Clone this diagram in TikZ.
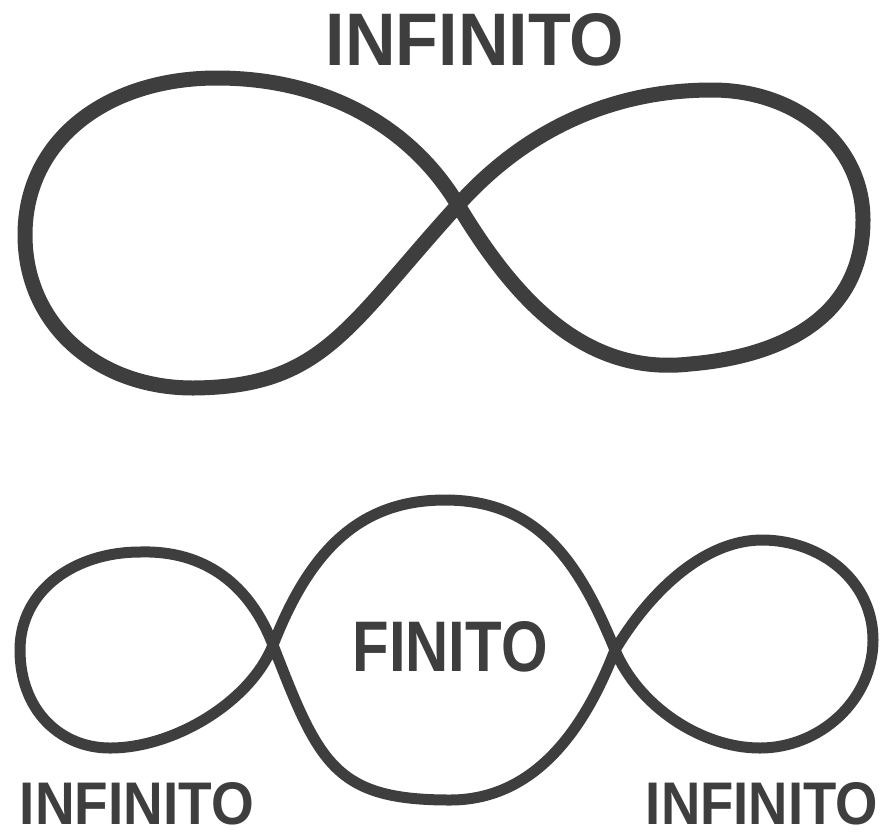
\documentclass[tikz,border=0pt]{standalone}
\usepackage{fontspec}
\usepackage{graphicx}
\setmainfont{Liberation Sans}
\definecolor{ink}{RGB}{62,62,62}
\tikzset{
  loopline/.style={draw=ink, line width=#1, line join=round, line cap=round},
  hand/.style={inner sep=0pt, outer sep=0pt, text=ink, font=\bfseries}
}
\begin{document}
\begin{tikzpicture}[x=1pt,y=-1pt]
\useasboundingbox (0,0) rectangle (890,836);
\fill[white] (0,0) rectangle (890,836);

% top figure eight
\coordinate (C) at (458,205);
\draw[loopline=15pt]
  (C) .. controls (518,138) and (602,90) .. (712,90)
      .. controls (797,90) and (863,145) .. (863,220)
      .. controls (863,315) and (785,356) .. (690,364)
      .. controls (585,376) and (515,300) .. (C)
      .. controls (412,128) and (327,78) .. (217,78)
      .. controls (107,78) and (25,140) .. (25,235)
      .. controls (25,325) and (98,388) .. (193,388)
      .. controls (323,387) and (347,327) .. (C) -- cycle;

% bottom chain: left, middle, right lobes
\coordinate (CL) at (273,645);
\coordinate (CR) at (615,650);
\draw[loopline=11pt]
  (CL) .. controls (310,550) and (360,500) .. (445,500)
       .. controls (540,500) and (580,565) .. (CR)
       .. controls (638,705) and (700,748) .. (760,748)
       .. controls (820,748) and (873,700) .. (873,640)
       .. controls (873,580) and (820,540) .. (762,540)
       .. controls (705,540) and (651,590) .. (CR)
       .. controls (588,720) and (540,800) .. (450,800)
       .. controls (335,800) and (319,764) .. (CL)
       .. controls (250,585) and (205,550) .. (140,552)
       .. controls (75,552) and (20,590) .. (20,650)
       .. controls (20,710) and (60,748) .. (110,748)
       .. controls (175,748) and (251,701) .. (CL) -- cycle;

% labels
\node[hand] (topinf) at (475,40) {\resizebox{298pt}{52pt}{INFINITO}};
\node[hand] (finito) at (450,647) {\resizebox{195pt}{50pt}{FINITO}};
\node[hand] (leftinf) at (137,804) {\resizebox{234pt}{42pt}{INFINITO}};
\node[hand] (rightinf) at (762,804) {\resizebox{232pt}{42pt}{INFINITO}};
\end{tikzpicture}
\end{document}
